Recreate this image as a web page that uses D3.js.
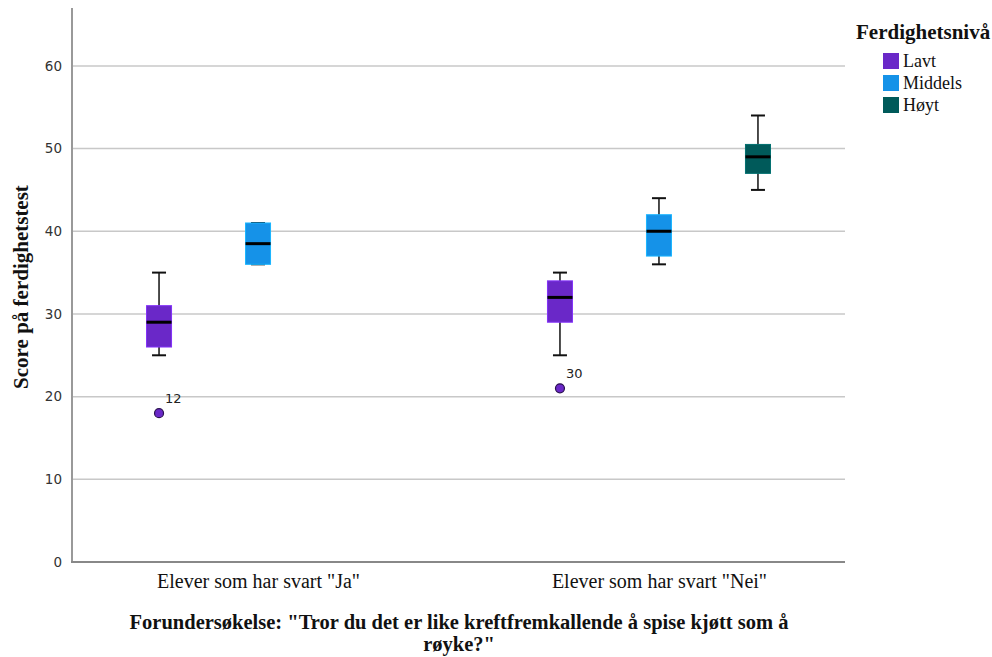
<!DOCTYPE html>
<html><head><meta charset="utf-8">
<script src="https://cdn.jsdelivr.net/npm/d3@7"></script>
<style>body{margin:0;background:#fff}svg{display:block}</style>
</head><body>
<svg id="c" width="992" height="657"></svg>
<script>
const categories = ['Elever som har svart "Ja"', 'Elever som har svart "Nei"'];
const levels = ["Lavt", "Middels", "Høyt"];
const colors = ["#6a28c8", "#1592e8", "#005a5a"];
const yTicks = [0, 10, 20, 30, 40, 50, 60];
// [category index, level index, whiskerLow, Q1, median, Q3, whiskerHigh]
const boxes = [
  [0, 0, 25, 26, 29, 31, 35],
  [0, 1, 36, 36, 38.5, 41, 41],
  [1, 0, 25, 29, 32, 34, 35],
  [1, 1, 36, 37, 40, 42, 44],
  [1, 2, 45, 47, 49, 50.5, 54]
];
// [category index, level index, value, label]
const outliers = [
  [0, 0, 18, "12"],
  [1, 0, 21, "30"]
];

const svg = d3.select("#c");
const L = 72, R = 845, T = 8, B = 562;
const serif = "Liberation Serif, Times New Roman, serif";
const y = d3.scaleLinear().domain([0, 67]).range([B, T]);
const x = d3.scalePoint().domain(categories).range([L, R]).padding(0.464);
const xi = d3.scalePoint().domain(levels).range([-99, 99]);
const bw = 25, cap = 14;

// gridlines
svg.append("g").selectAll("line").data(yTicks.filter(d => d > 0)).join("line")
  .attr("x1", L).attr("x2", R).attr("y1", d => y(d)).attr("y2", d => y(d))
  .attr("stroke", "#c8c8c8").attr("stroke-width", 1.5);

// y axis
const ya = svg.append("g").attr("transform", `translate(${L},0)`)
  .call(d3.axisLeft(y).tickValues(yTicks).tickSize(0).tickPadding(10));
ya.select(".domain").remove();
ya.selectAll("text").attr("font-family", "DejaVu Sans, sans-serif").attr("font-size", 13.5).attr("fill", "#333");
svg.append("line").attr("x1", L).attr("x2", L).attr("y1", T).attr("y2", B).attr("stroke", "#999").attr("stroke-width", 2);

// x axis
const xa = svg.append("g").attr("transform", `translate(0,${B})`)
  .call(d3.axisBottom(x).tickSize(0).tickPadding(12));
xa.select(".domain").remove();
xa.selectAll("text").attr("font-family", serif).attr("font-size", 20).attr("fill", "#111");
svg.append("line").attr("x1", L - 1).attr("x2", R).attr("y1", B).attr("y2", B).attr("stroke", "#888").attr("stroke-width", 2);

// boxes
const g = svg.append("g");
boxes.forEach(b => {
  const cx = x(categories[b[0]]) + xi(levels[b[1]]);
  const col = colors[b[1]];
  g.append("line").attr("x1", cx).attr("x2", cx).attr("y1", y(b[6])).attr("y2", y(b[2])).attr("stroke", "#111").attr("stroke-width", 1.5);
  [b[2], b[6]].forEach(v => g.append("line").attr("x1", cx - cap / 2).attr("x2", cx + cap / 2)
    .attr("y1", y(v)).attr("y2", y(v)).attr("stroke", "#111").attr("stroke-width", 2));
  g.append("rect").attr("x", cx - bw / 2).attr("width", bw).attr("y", y(b[5])).attr("height", y(b[3]) - y(b[5]))
    .attr("fill", col).attr("stroke", d3.color(col).brighter(0.6)).attr("stroke-width", 1);
  g.append("line").attr("x1", cx - bw / 2).attr("x2", cx + bw / 2).attr("y1", y(b[4])).attr("y2", y(b[4]))
    .attr("stroke", "#000").attr("stroke-width", 3);
});
outliers.forEach(o => {
  const cx = x(categories[o[0]]) + xi(levels[o[1]]);
  g.append("circle").attr("cx", cx).attr("cy", y(o[2])).attr("r", 4.5)
    .attr("fill", colors[o[1]]).attr("stroke", "#2a1050").attr("stroke-width", 1.2);
  g.append("text").attr("x", cx + 6).attr("y", y(o[2]) - 10).text(o[3])
    .attr("font-family", "DejaVu Sans, sans-serif").attr("font-size", 13).attr("fill", "#222");
});

// axis titles
svg.append("text").attr("transform", `translate(28,287) rotate(-90)`).attr("text-anchor", "middle")
  .attr("font-family", serif).attr("font-weight", "bold").attr("font-size", 21).attr("fill", "#111")
  .text("Score på ferdighetstest");
const xt = svg.append("text").attr("text-anchor", "middle")
  .attr("font-family", serif).attr("font-weight", "bold").attr("font-size", 20.5).attr("fill", "#111");
xt.append("tspan").attr("x", 459).attr("y", 629).text('Forundersøkelse: "Tror du det er like kreftfremkallende å spise kjøtt som å');
xt.append("tspan").attr("x", 459).attr("y", 651).text('røyke?"');

// legend
const lg = svg.append("g");
lg.append("text").attr("x", 856).attr("y", 39).text("Ferdighetsnivå")
  .attr("font-family", serif).attr("font-weight", "bold").attr("font-size", 21).attr("fill", "#111");
levels.forEach((l, i) => {
  lg.append("rect").attr("x", 883).attr("y", 53 + i * 22).attr("width", 16).attr("height", 16).attr("fill", colors[i]);
  lg.append("text").attr("x", 903).attr("y", 67 + i * 22).text(l)
    .attr("font-family", serif).attr("font-size", 18).attr("fill", "#111");
});
</script>
</body></html>
